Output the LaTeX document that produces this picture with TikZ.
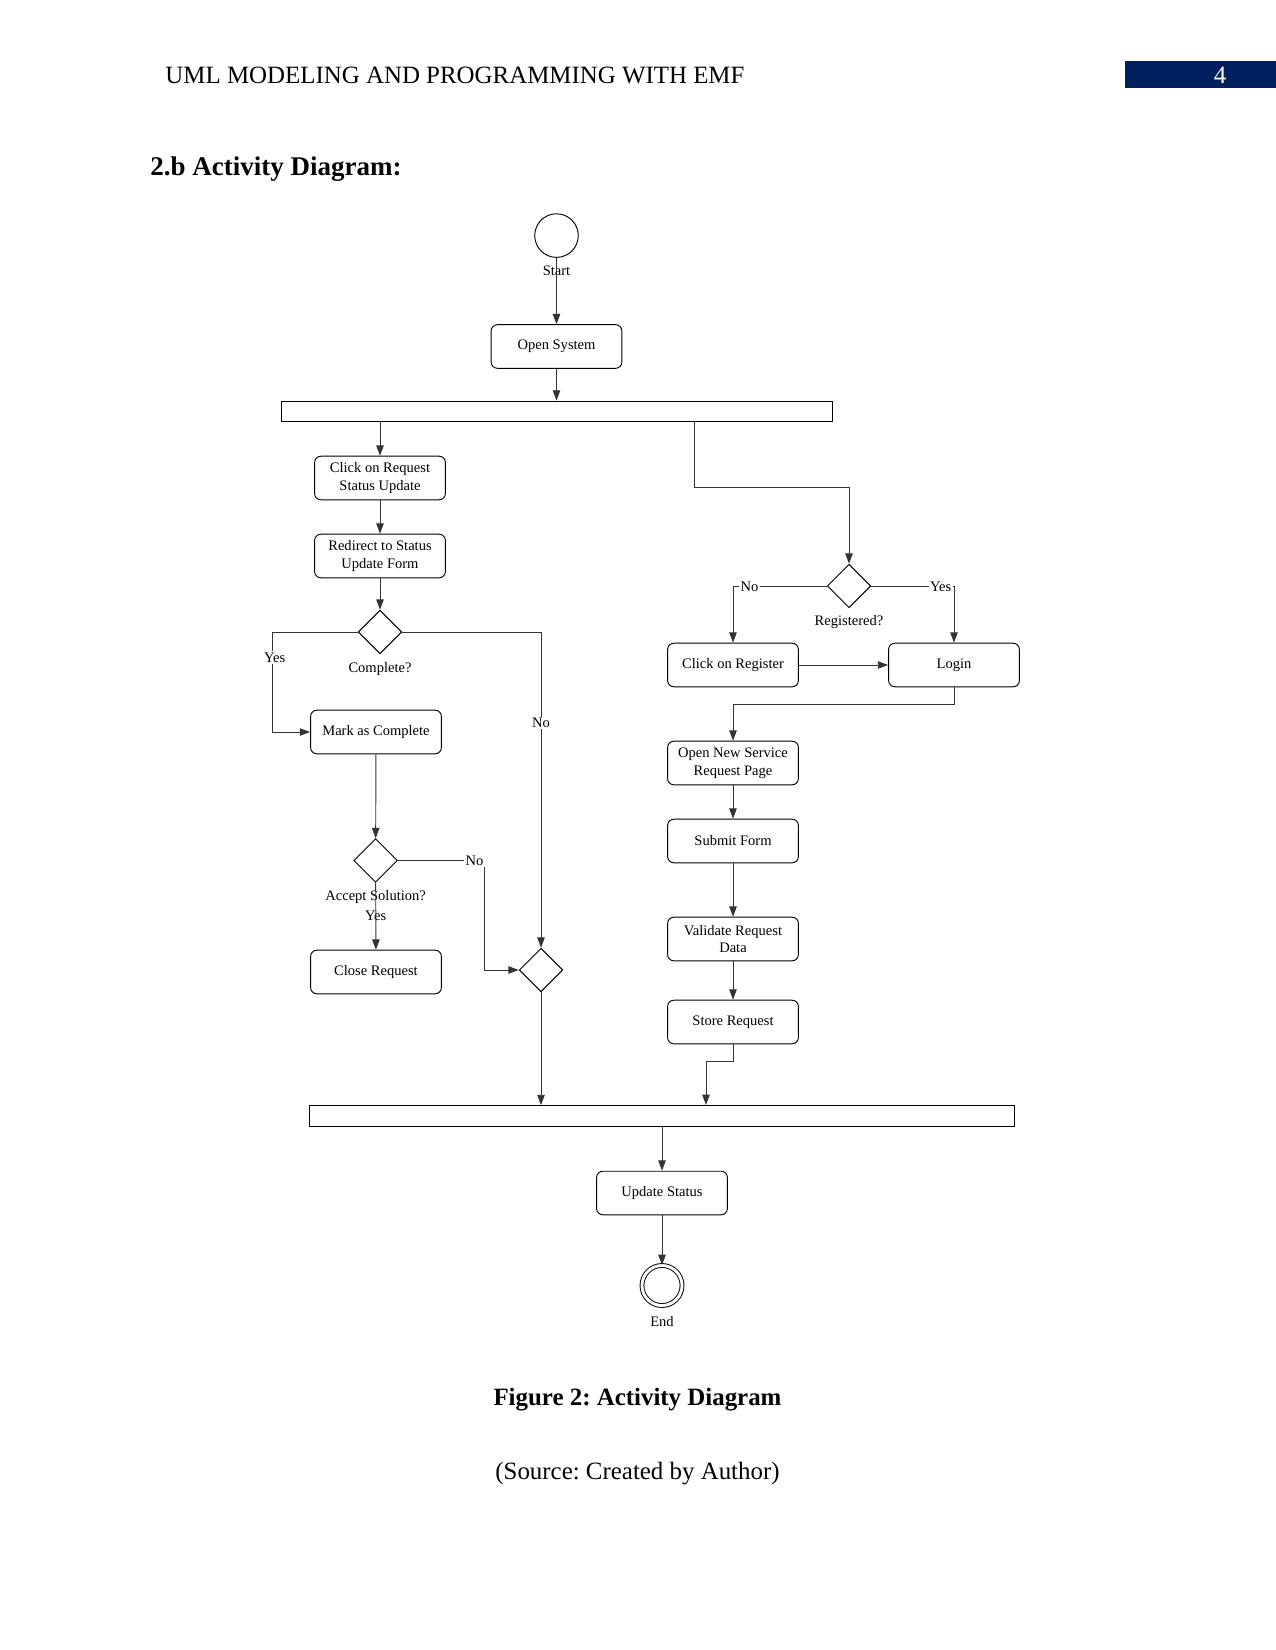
\documentclass[tikz,border=0pt]{standalone}
\usepackage{fontspec}
\setmainfont{Liberation Serif}
\usetikzlibrary{arrows.meta,positioning,shapes.geometric}
\definecolor{headblue}{RGB}{0,32,96}
\frenchspacing

\begin{document}
\begin{tikzpicture}[x=0.4818pt,y=-0.4818pt,line width=0.45pt,
  action/.style={draw,rounded corners=3pt,minimum width=63pt,minimum height=21pt,
    align=center,inner sep=1pt,font=\fontsize{7}{8.5}\selectfont},
  decision/.style={draw,diamond,minimum width=21pt,minimum height=21pt,inner sep=0pt},
  syncbar/.style={draw,minimum height=10pt,inner sep=0pt},
  lbl/.style={inner sep=1pt,font=\fontsize{7}{8.5}\selectfont},
  guard/.style={lbl,fill=white,inner sep=0.6pt},
  flow/.style={draw=black!80,-{Triangle[length=5pt,width=3.6pt]}}]
\useasboundingbox (0,0) rectangle (1275,1650);

% page header
\node[anchor=west,inner sep=0pt,font=\fontsize{12}{14}\selectfont] (header) at (165,75) {UML MODELING AND PROGRAMMING WITH EMF};
\node[fill=headblue,anchor=north west,minimum width=72.3pt,minimum height=13pt,inner sep=0pt] (pagebox) at (1125,61) {};
\node[text=white,font=\fontsize{12}{14}\selectfont] (pagenum) at (1220,75) {4};
\node[anchor=west,inner sep=0pt,font=\bfseries\fontsize{13}{15}\selectfont] (heading) at (150,169) {2.b Activity Diagram:};

% main flow
\node[circle,draw,minimum size=21pt,inner sep=0pt] (start) at (556.5,235.6) {};
\node[lbl] (startlbl) at (556.5,271) {Start};
\node[action] (open) at (556.5,346.5) {Open System};
\node[syncbar,minimum width=265.5pt] (fork) at (556.5,411.5) {};

% left branch
\node[action] (click) at (380,478) {Click on Request\\Status Update};
\node[action] (redirect) at (380,556) {Redirect to Status\\Update Form};
\node[decision] (complete) at (380,632) {};
\node[lbl] (completelbl) at (380,669) {Complete?};
\node[action] (mark) at (376,732) {Mark as Complete};
\node[decision] (accept) at (375.6,860.5) {};
\node[lbl] (acceptlbl) at (375.6,897) {Accept Solution?};
\node[lbl] (acceptyes) at (375.6,916) {Yes};
\node[action] (close) at (376,972) {Close Request};
\node[decision] (merge) at (541,970) {};

% right branch
\coordinate (forkR) at (694,422);
\coordinate (regturn) at (694,487);
\node[decision] (reg) at (849,586) {};
\node[lbl] (reglbl) at (849,622) {Registered?};
\node[action] (register) at (733,665) {Click on Register};
\node[action] (login) at (954,665) {Login};
\node[action] (newreq) at (733,763) {Open New Service\\Request Page};
\node[action] (submit) at (733,841) {Submit Form};
\node[action] (validate) at (733,939) {Validate Request\\Data};
\node[action] (store) at (733,1022) {Store Request};

% join and end
\node[syncbar,minimum width=339.7pt] (join) at (661.5,1116) {};
\coordinate (joinR) at (706,1105);
\node[action] (update) at (662,1193) {Update Status};
\node[circle,draw,double,double distance=1.4pt,minimum size=19.3pt,inner sep=0pt] (end) at (662,1285.5) {};
\node[lbl] (endlbl) at (662,1322) {End};

% connectors
\draw[flow] (start.south) -- (open.north);
\draw[flow] (open.south) -- (open.south |- fork.north);
\draw[flow] (fork.south -| click.north) -- (click.north);
\draw[flow] (click) -- (redirect);
\draw[flow] (redirect) -- (complete);
\draw[flow] (complete.west) -- ++(-85,0) |- (mark.west);
\draw[flow] (complete.east) -| (merge.north);
\draw[flow] (mark) -- (accept);
\draw[flow] (accept) -- (close);
\draw[flow] (accept.east) -- ++(87,0) |- (merge.west);
\draw[flow] (merge.south) -- (merge.south |- join.north);
\draw[flow] (forkR) -- (regturn) -| (reg.north);
\draw[flow] (reg.west) -| (register.north);
\draw[flow] (reg.east) -| (login.north);
\draw[flow] (register) -- (login);
\draw[flow] (login.south) -- ++(0,17) -| (newreq.north);
\draw[flow] (newreq) -- (submit);
\draw[flow] (submit) -- (validate);
\draw[flow] (validate) -- (store);
\draw[flow] (store.south) -- ++(0,17) -| (joinR);
\draw[flow] (join.south -| update.north) -- (update.north);
\draw[flow] (update) -- (end);

% guards
\node[guard] (compyes) at (274.6,657.5) {Yes};
\node[guard] (compno) at (541,723) {No};
\node[guard,anchor=east] (accno) at (485,861) {No};
\node[guard,anchor=west] (regno) at (739,587) {No};
\node[guard,anchor=east] (regyes) at (953,587) {Yes};

% caption
\node[font=\bfseries\fontsize{12}{14}\selectfont] (caption) at (637.5,1400) {Figure 2: Activity Diagram};
\node[font=\fontsize{12}{14}\selectfont] (source) at (637.5,1474) {(Source: Created by Author)};
\end{tikzpicture}
\end{document}
